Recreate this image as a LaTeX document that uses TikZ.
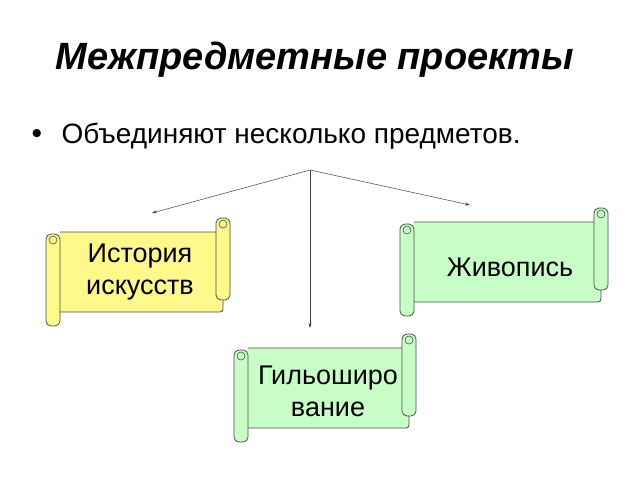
\documentclass[tikz,border=0pt]{standalone}
\usepackage{fontspec}
\setmainfont{Liberation Sans}
\usetikzlibrary{arrows.meta}
\tikzset{
  roll/.style={draw=black!70, line width=0.8pt, rounded corners=5pt},
  conn/.style={-{Stealth[length=5pt,width=3pt]}, black!75, line width=0.5pt},
  scrolltext/.style={font=\fontsize{27}{32}\selectfont, align=center}
}
% scroll: x1, y1, x2, y2, colour
\newcommand{\scrollbox}[5]{%
  \fill[#5] (#1+14,#2) rectangle (#3-7,#4);
  \draw[black!70, line width=0.8pt, rounded corners=3pt] (#1+14,#2) -- (#3-7,#2) -- (#3-7,#4) -- (#1+14,#4);
  \draw[roll, fill=#5] (#1,#2+2) rectangle (#1+14,#4+14);
  \draw[black!70, line width=0.6pt, fill=#5] (#1+7,#2+8) circle (4);
  \draw[roll, fill=#5] (#3-14,#2-14) rectangle (#3,#4-12);
  \draw[black!70, line width=0.6pt, fill=#5] (#3-7,#2-8) circle (4);
}
\begin{document}
\begin{tikzpicture}[x=1pt, y=-1pt]
\useasboundingbox (0,0) rectangle (640,480);
\fill[white] (0,0) rectangle (640,480);
\node (title) at (315,60) {\fontsize{38}{42}\selectfont\bfseries\itshape Межпредметные проекты};
\node[anchor=base west] (bullet) at (28,143) {\fontsize{30}{34}\selectfont •};
\node[anchor=base west] (intro) at (58,143) {\fontsize{28}{32}\selectfont Объединяют несколько предметов.};
\scrollbox{46}{232}{230}{312}{yellow!45}
\scrollbox{400}{222}{608}{302}{green!22}
\scrollbox{234}{348}{416}{428}{green!22}
\node[scrolltext] (history) at (140,272) {История\\искусств};
\node[scrolltext] (painting) at (510,267) {Живопись};
\node[scrolltext] (guilloche) at (328,391) {Гильоширо\\вание};
\coordinate (hub) at (310,170);
\coordinate (toHistory) at (152,213);
\coordinate (toGuilloche) at (310,328);
\coordinate (toPainting) at (470,205);
\draw[conn] (hub) -- (toHistory);
\draw[conn] (hub) -- (toGuilloche);
\draw[conn] (hub) -- (toPainting);
\end{tikzpicture}
\end{document}
